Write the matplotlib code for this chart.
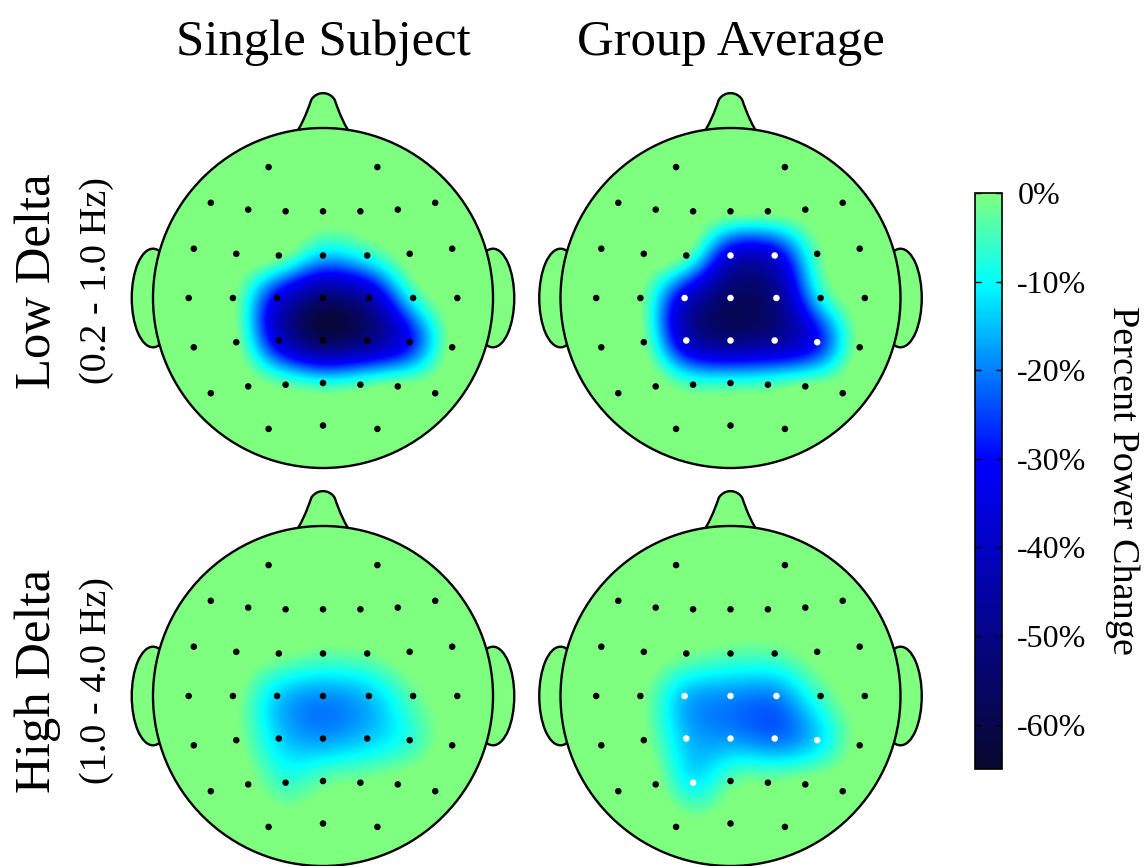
import numpy as np
import matplotlib.pyplot as plt
from matplotlib.colors import LinearSegmentedColormap, Normalize
from matplotlib.patches import Circle, Ellipse, PathPatch
from matplotlib.path import Path

plt.rcParams['font.family'] = ['Liberation Serif', 'DejaVu Serif']

W, H = 1147, 866

# electrode layout, unit head radius, nose pointing up
elec_x = np.array([-0.32, 0.32,
                   -0.66, -0.44, -0.22, 0.00, 0.22, 0.44, 0.66,
                   -0.76, -0.51, -0.26, 0.00, 0.26, 0.51, 0.76,
                   -0.79, -0.53, -0.27, 0.00, 0.27, 0.53, 0.79,
                   -0.76, -0.51, -0.26, 0.00, 0.26, 0.51, 0.76,
                   -0.66, -0.44, -0.22, 0.00, 0.22, 0.44, 0.66,
                   -0.32, 0.00, 0.32])
elec_y = np.array([0.77, 0.77,
                   0.56, 0.52, 0.51, 0.51, 0.51, 0.52, 0.56,
                   0.29, 0.26, 0.25, 0.25, 0.25, 0.26, 0.29,
                   0.00, 0.00, 0.00, 0.00, 0.00, 0.00, 0.00,
                   -0.29, -0.26, -0.25, -0.25, -0.25, -0.26, -0.29,
                   -0.56, -0.52, -0.51, -0.50, -0.51, -0.52, -0.56,
                   -0.77, -0.75, -0.77])

# percent power change per electrode
low_single = np.array([3, 3,
                       3, 3, 3, 3, 3, 3, 3,
                       3, 3, 3, -14, -7, 3, 3,
                       3, 2, -36, -56, -46, -7, 3,
                       3, 2, -40, -62, -54, -34, 3,
                       3, 3, -1, -6, -2, 3, 3,
                       3, 3, 3])
low_group = np.array([3, 3,
                      3, 3, 3, 3, 3, 3, 3,
                      3, 3, 1, -40, -38, -2, 3,
                      3, 1, -40, -58, -52, -8, 3,
                      3, 1, -44, -54, -50, -34, 3,
                      3, 3, -4, -5, -3, 2, 3,
                      3, 3, 3])
high_single = np.array([3, 3,
                        3, 3, 3, 3, 3, 3, 3,
                        3, 3, 1, -2, -1, 3, 3,
                        3, 2, -15, -20, -16, -3, 3,
                        3, 1, -14, -19, -15, -8, 3,
                        3, 2, -7, -2, 0, 3, 3,
                        3, 3, 3])
high_group = np.array([3, 3,
                       3, 3, 3, 3, 3, 3, 3,
                       3, 3, 0, -3, -3, 2, 3,
                       3, 1, -17, -20, -21, -5, 3,
                       3, 1, -16, -19, -23, -15, 2,
                       3, 2, -13, -2, 0, 3, 3,
                       3, 3, 3])

# electrodes marked significant in the group maps
sig_low = [12, 13, 18, 19, 20, 25, 26, 27, 28]
sig_high = [18, 19, 20, 25, 26, 27, 28, 32]

col_titles = ['Single Subject', 'Group Average']
row_titles = ['Low Delta', 'High Delta']
row_bands = ['(0.2 - 1.0 Hz)', '(1.0 - 4.0 Hz)']
cbar_ticks = [0, -10, -20, -30, -40, -50, -60]
cbar_labels = ['0%', '-10%', '-20%', '-30%', '-40%', '-50%', '-60%']

vmin, vmax = -65, 0
green = (0.5, 1.0, 0.5)
cmap = LinearSegmentedColormap.from_list('pow', [
    (0.0, (0.03, 0.03, 0.18)),
    (35 / 65, (0.0, 0.0, 1.0)),
    (55 / 65, (0.0, 1.0, 1.0)),
    (1.0, green)])
norm = Normalize(vmin, vmax)


def rbf_surface(vals, gx, gy, eps=0.2):
    # gaussian radial basis fit through the electrode values
    pts = elec_x + 1j * elec_y
    K = np.exp(-(np.abs(pts[:, None] - pts[None, :]) / eps) ** 2)
    w = np.linalg.solve(K + 0.01 * np.eye(len(pts)), vals.astype(float))
    grid = (gx + 1j * gy).ravel()
    Kg = np.exp(-(np.abs(grid[:, None] - pts[None, :]) / eps) ** 2)
    return (Kg @ w).reshape(gx.shape)


def blur(z, sigma):
    n = int(3 * sigma)
    k = np.exp(-0.5 * (np.arange(-n, n + 1) / sigma) ** 2)
    k /= k.sum()
    z = np.apply_along_axis(lambda r: np.convolve(r, k, mode='same'), 0, z)
    return np.apply_along_axis(lambda r: np.convolve(r, k, mode='same'), 1, z)


def nose_path():
    t = np.linspace(np.deg2rad(150), np.deg2rad(30), 30)
    tip = np.column_stack([0.08 * np.cos(t), 1.125 + 0.08 * np.sin(t)])
    verts = [(-0.17, 0.95), (-0.11, 1.04), tuple(tip[0])]
    codes = [Path.MOVETO, Path.CURVE3, Path.CURVE3]
    for p in tip[1:]:
        verts.append(tuple(p))
        codes.append(Path.LINETO)
    verts += [(0.11, 1.04), (0.17, 0.95), (0.17, 0.95)]
    codes += [Path.CURVE3, Path.CURVE3, Path.CLOSEPOLY]
    return Path(verts, codes)


ext = 1.2
g = np.linspace(-ext, ext, 361)
gx, gy = np.meshgrid(g, g)
step = g[1] - g[0]

fig = plt.figure(figsize=(W / 100, H / 100), dpi=100)

centers = {(0, 0): (323, 298), (0, 1): (730.5, 298),
           (1, 0): (323, 696), (1, 1): (730.5, 696)}
maps = {(0, 0): (low_single, []), (0, 1): (low_group, sig_low),
        (1, 0): (high_single, []), (1, 1): (high_group, sig_high)}
R, span = 170, 1.25

for key, (cx, cy) in centers.items():
    vals, sig = maps[key]
    half = R * span
    ax = fig.add_axes([(cx - half) / W, (H - cy - half) / H,
                       2 * half / W, 2 * half / H])
    ax.set_xlim(-span, span)
    ax.set_ylim(-span, span)
    ax.axis('off')

    # nose and ears behind the scalp
    ax.add_patch(PathPatch(nose_path(), fc=green, ec='black', lw=1.7, zorder=1))
    for side in (-1, 1):
        ax.add_patch(Ellipse((side * 1.0, 0), 0.25, 0.58, fc=green,
                             ec='black', lw=1.7, zorder=1))
    ax.add_patch(Circle((0, 0), 1, fc=green, ec='none', zorder=2))

    z = blur(rbf_surface(vals, gx, gy), 0.065 / step)
    im = ax.imshow(z, extent=(-ext, ext, -ext, ext), origin='lower', cmap=cmap,
                   norm=norm, interpolation='bilinear', zorder=3)
    clip = Circle((0, 0), 1, transform=ax.transData)
    im.set_clip_path(clip)
    ax.add_patch(Circle((0, 0), 1, fc='none', ec='black', lw=1.7, zorder=4))

    colors = ['white' if i in sig else 'black' for i in range(len(elec_x))]
    ax.scatter(elec_x, elec_y, s=22, c=colors, linewidths=0, zorder=5)

for j, t in enumerate(col_titles):
    fig.text(centers[(0, j)][0] / W, 1 - 55 / H, t, ha='center',
             va='baseline', fontsize=36.5)

for i in range(2):
    cy = [281, 681][i]
    fig.text(50 / W, 1 - cy / H, row_titles[i], rotation=90,
             rotation_mode='anchor', ha='center', va='baseline', fontsize=36.5)
    fig.text(106 / W, 1 - cy / H, row_bands[i], rotation=90,
             rotation_mode='anchor', ha='center', va='baseline', fontsize=27.5)

cax = fig.add_axes([975 / W, (H - 769) / H, 27 / W, 576 / H])
cb = fig.colorbar(im, cax=cax)
cb.set_ticks(cbar_ticks)
cb.set_ticklabels(cbar_labels)
cb.outline.set_linewidth(1.2)
cax.tick_params(direction='in', length=4, width=1, left=True, right=True,
                labelsize=23, pad=11)
fig.text(1113 / W, 1 - 481 / H, 'Percent Power Change', rotation=-90,
         rotation_mode='anchor', ha='center', va='baseline', fontsize=27.5)

fig.savefig('out.png', dpi=100)
